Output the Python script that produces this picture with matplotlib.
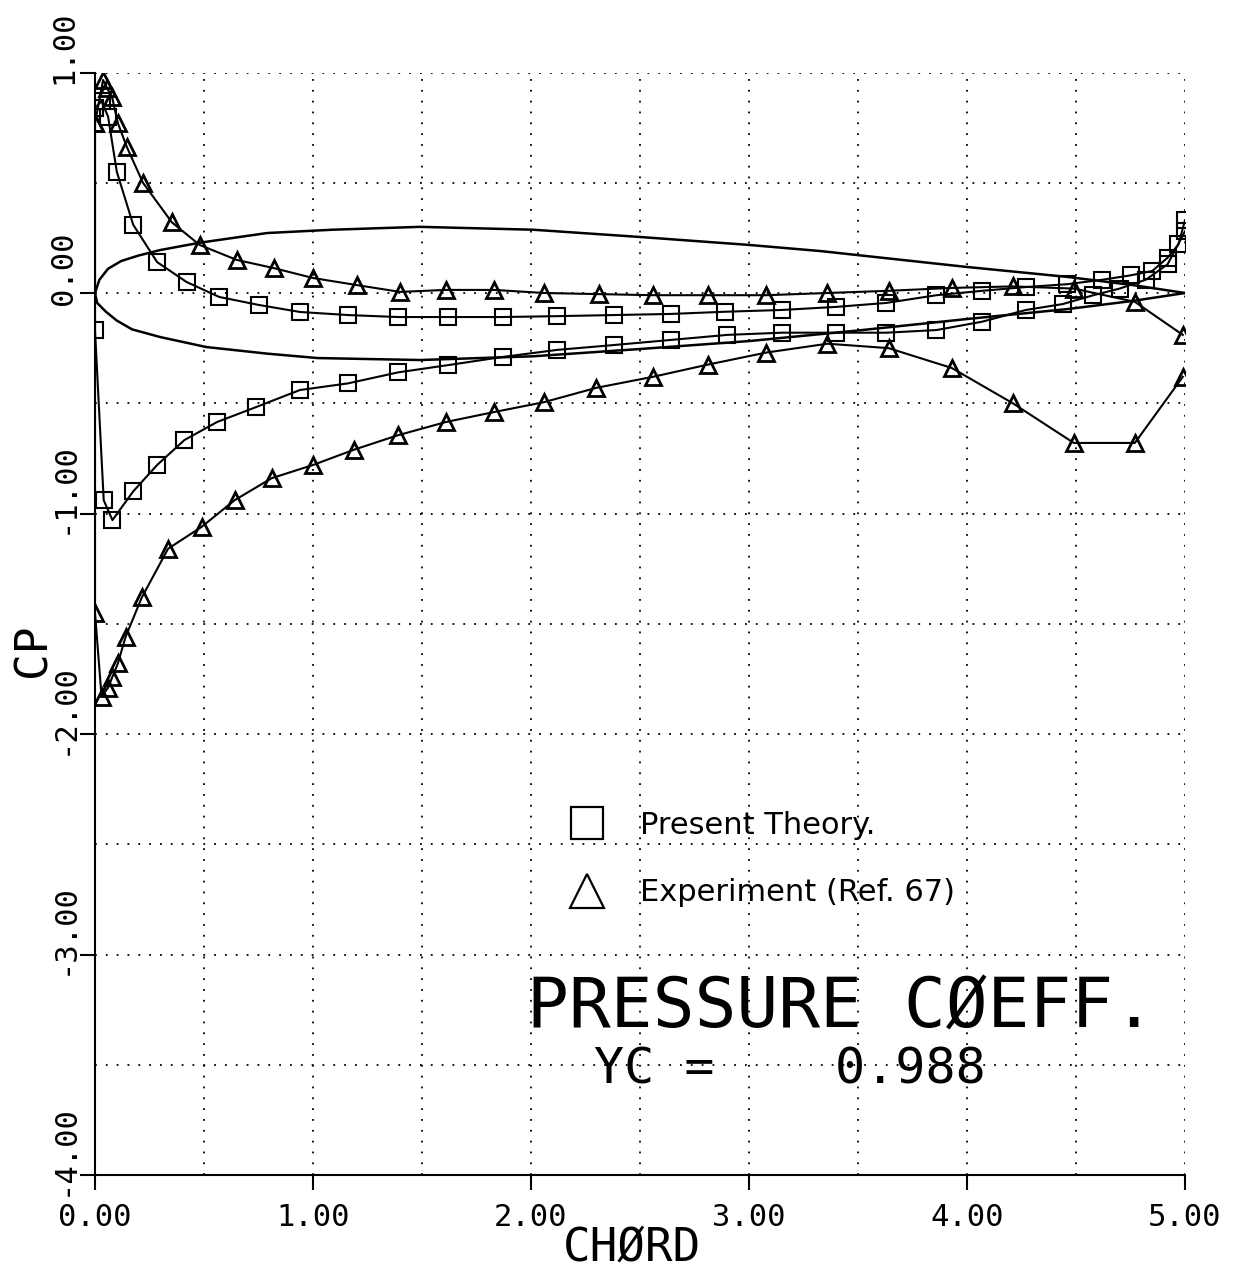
import numpy as np
import matplotlib
matplotlib.use("Agg")
import matplotlib.pyplot as plt
import matplotlib.transforms as mtransforms
from matplotlib.lines import Line2D
from matplotlib.ticker import MultipleLocator

# airfoil section outline (drawn to the same axes)
foil_x_upper = [0.0, 0.02, 0.06, 0.12, 0.20, 0.30, 0.48, 0.79, 1.09, 1.49, 2.01, 2.50, 3.00, 3.33, 4.00, 4.46, 4.76, 5.00]
foil_y_upper = [0.0, 0.06, 0.11, 0.145, 0.17, 0.195, 0.228, 0.272, 0.287, 0.30, 0.287, 0.254, 0.218, 0.19, 0.118, 0.073, 0.036, 0.0]
foil_x_lower = [0.0, 0.01, 0.05, 0.10, 0.17, 0.30, 0.51, 0.79, 1.02, 1.49, 2.01, 2.50, 3.00, 3.50, 4.00, 4.46, 4.76, 5.00]
foil_y_lower = [0.0, -0.045, -0.085, -0.125, -0.165, -0.20, -0.245, -0.275, -0.295, -0.304, -0.287, -0.254, -0.218, -0.17, -0.118, -0.073, -0.036, 0.0]

# present theory, suction (upper) and pressure (lower) branches
theory_x_upper = [0.0, 0.03, 0.06, 0.10, 0.175, 0.285, 0.42, 0.57, 0.75, 0.94, 1.16, 1.39, 1.62, 1.87, 2.12,
                  2.38, 2.64, 2.89, 3.15, 3.40, 3.63, 3.86, 4.07, 4.27, 4.46, 4.62, 4.75, 4.85, 4.92, 4.97, 5.00]
theory_y_upper = [0.84, 0.87, 0.80, 0.55, 0.31, 0.14, 0.05, -0.018, -0.054, -0.086, -0.10, -0.109, -0.109, -0.109, -0.105,
                  -0.10, -0.095, -0.085, -0.077, -0.063, -0.045, -0.01, 0.01, 0.027, 0.04, 0.06, 0.08, 0.10, 0.16, 0.22, 0.33]
theory_x_lower = [0.0, 0.0, 0.04, 0.08, 0.175, 0.285, 0.41, 0.56, 0.74, 0.94, 1.16, 1.39, 1.62, 1.87, 2.12, 2.38,
                  2.64, 2.90, 3.15, 3.40, 3.63, 3.86, 4.07, 4.27, 4.44, 4.58, 4.70, 4.82, 4.92, 5.00]
theory_y_lower = [0.84, -0.17, -0.94, -1.03, -0.90, -0.78, -0.667, -0.585, -0.517, -0.44, -0.41, -0.36, -0.327, -0.29, -0.258, -0.236,
                  -0.213, -0.19, -0.18, -0.18, -0.18, -0.168, -0.13, -0.077, -0.05, -0.01, 0.02, 0.06, 0.13, 0.28]

# experiment (Ref. 67)
exp_x_upper = [0.0, 0.037, 0.055, 0.078, 0.105, 0.147, 0.22, 0.353, 0.48, 0.65, 0.82, 1.00, 1.20, 1.40, 1.61, 1.83,
               2.06, 2.31, 2.56, 2.81, 3.08, 3.36, 3.64, 3.93, 4.21, 4.49, 4.77, 4.99]
exp_y_upper = [0.77, 0.966, 0.93, 0.89, 0.77, 0.66, 0.50, 0.32, 0.218, 0.15, 0.113, 0.068, 0.036, 0.005, 0.014, 0.014,
               0.0, -0.005, -0.01, -0.01, -0.01, 0.0, 0.01, 0.023, 0.03, 0.02, -0.04, -0.19]
exp_x_lower = [0.0, 0.0, 0.03, 0.06, 0.08, 0.105, 0.14, 0.215, 0.335, 0.49, 0.64, 0.81, 1.00, 1.19, 1.39, 1.61, 1.83,
               2.06, 2.30, 2.56, 2.81, 3.08, 3.36, 3.64, 3.93, 4.21, 4.49, 4.77, 4.99]
exp_y_lower = [0.77, -1.45, -1.83, -1.79, -1.74, -1.68, -1.56, -1.38, -1.16, -1.06, -0.94, -0.84, -0.78, -0.71, -0.645, -0.585, -0.54,
               -0.495, -0.43, -0.38, -0.325, -0.27, -0.23, -0.25, -0.34, -0.50, -0.68, -0.68, -0.38]

x_ticks = [0, 1, 2, 3, 4, 5]
y_ticks = [-4, -3, -2, -1, 0, 1]
yc = 0.988

mono = "DejaVu Sans Mono"

fig = plt.figure(figsize=(12.58, 12.74), dpi=100)
ax = fig.add_axes([95 / 1258, 99 / 1274, 1090 / 1258, 1102.5 / 1274])
ax.set_xlim(0, 5)
ax.set_ylim(-4, 1)

for side in ("top", "right"):
    ax.spines[side].set_visible(False)
for side in ("left", "bottom"):
    ax.spines[side].set_linewidth(1.5)

ax.set_xticks(x_ticks)
ax.set_yticks(y_ticks)
ax.xaxis.set_minor_locator(MultipleLocator(0.5))
ax.yaxis.set_minor_locator(MultipleLocator(0.5))
ax.set_xticklabels(["%.2f" % v for v in x_ticks], family=mono, fontsize=22)
ax.set_yticklabels(["%.2f" % v for v in y_ticks], family=mono, fontsize=22)
ax.tick_params(which="major", direction="out", length=11, width=1.5, color="black")
ax.tick_params(axis="x", which="major", pad=9)
ax.tick_params(axis="y", which="major", pad=1, labelrotation=90)
ax.tick_params(which="minor", length=0)
ax.grid(which="both", color="black", linestyle=(0, (1, 5)), linewidth=1.3)
ax.set_axisbelow(True)

# vertical tick labels sit a little above their ticks
shift = mtransforms.ScaledTranslation(0, 0.25, fig.dpi_scale_trans)
for lab in ax.get_yticklabels():
    lab.set_verticalalignment("center")
    lab.set_transform(lab.get_transform() + shift)

ax.set_xlabel("CHØRD", family=mono, fontsize=33, va="center")
ax.xaxis.set_label_coords(0.493, -0.066)
ax.set_ylabel("CP", family=mono, fontsize=32, va="center", ha="center")
ax.yaxis.set_label_coords(-0.057, 0.476)

# airfoil
ax.plot(foil_x_upper, foil_y_upper, color="black", lw=1.8)
ax.plot(foil_x_lower, foil_y_lower, color="black", lw=1.8)

sq = dict(color="black", lw=1.5, marker="s", markersize=12, mfc="none", mec="black", mew=1.5)
tri = dict(color="black", lw=1.5, marker="^", markersize=11, mfc="none", mec="black", mew=2.0)
ax.plot(theory_x_upper, theory_y_upper, **sq)
ax.plot(theory_x_lower, theory_y_lower, **sq)
ax.plot(exp_x_upper, exp_y_upper, **tri)
ax.plot(exp_x_lower, exp_y_lower, **tri)

handles = [
    Line2D([], [], linestyle="none", marker="s", markersize=23, mfc="none", mec="black", mew=1.6),
    Line2D([], [], linestyle="none", marker="^", markersize=25, mfc="none", mec="black", mew=1.6),
]
leg = ax.legend(handles, ["Present Theory.", "Experiment (Ref. 67)"],
                loc="upper left", bbox_to_anchor=(2.15, -2.35), bbox_transform=ax.transData,
                frameon=False, prop={"family": "DejaVu Sans", "size": 22},
                handlelength=1.5, handletextpad=1.0, labelspacing=1.25, borderpad=0, borderaxespad=0)

ax.text(1.98, -3.333, "PRESSURE CØEFF.", family=mono, fontsize=50, ha="left", va="baseline")
ax.text(2.29, -3.587, "YC =    %.3f" % yc, family=mono, fontsize=36, ha="left", va="baseline")

fig.savefig("out.png", dpi=100)
